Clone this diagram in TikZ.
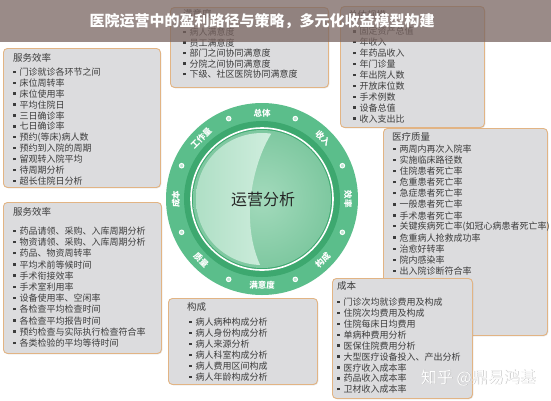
\documentclass[tikz,border=0pt]{standalone}
\usepackage{fontspec}
\setmainfont{Noto Sans CJK SC}
\usetikzlibrary{shadows}
\definecolor{boxfill}{HTML}{DCDCDE}
\definecolor{boxline}{HTML}{E2B484}
\definecolor{txt}{HTML}{3C3C3C}
\definecolor{ringgreen}{HTML}{5BBE8B}
\definecolor{banddark}{HTML}{3DA86F}
\definecolor{discin}{HTML}{A3DABC}
\definecolor{discout}{HTML}{7EC8A0}
\definecolor{glowa}{HTML}{A9DCC1}
\definecolor{glowb}{HTML}{D0EEDE}
\definecolor{bannerbg}{HTML}{786460}
\newcommand{\bul}{\raisebox{2.4pt}{\rule{2.4pt}{2.4pt}}\hspace{4pt}}

\begin{document}
\begin{tikzpicture}[x=1pt,y=-1pt,
	panel/.style={draw=boxline,fill=boxfill,rounded corners=4pt,line width=0.9pt,anchor=north west,inner sep=0pt,
		drop shadow={shadow xshift=0.8pt,shadow yshift=-0.8pt,opacity=.25}},
	head/.style={anchor=west,inner sep=0pt,text=txt,font=\fontsize{9.5}{10}\selectfont},
	item/.style={anchor=west,inner sep=0pt,text=txt,font=\fontsize{9}{10}\selectfont},
	ringlbl/.style={text=white,inner sep=0pt,font=\fontsize{8.5}{9}\selectfont\bfseries}]
	\useasboundingbox (0,0) rectangle (551,400);

	% top right box
	\node[panel,minimum width=144,minimum height=121] (ztbox) at (340,6) {};
	\node[head] (zthd) at (348,15) {总体规模};
	\foreach \t [count=\i] in {固定资产总值,年收入,年药品收入,年门诊量,年出院人数,开放床位数,手术例数,设备总值,收入支出比}
		\node[item] (zt\i) at (353,20.6+10.9*\i) {\bul\t};

	% top middle box
	\node[panel,minimum width=158,minimum height=80] (mybox) at (170,7) {};
	\node[head] (myhd) at (183,14) {满意度};
	\foreach \t [count=\i] in {病人满意度,员工满意度,部门之间协同满意度,分院之间协同满意度,下级、社区医院协同满意度}
		\node[item] (my\i) at (183,21.4+10.6*\i) {\bul\t};

	% left boxes
	\node[panel,minimum width=157,minimum height=139] (fabox) at (3,48) {};
	\node[head] (fahd) at (13,58) {服务效率};
	\foreach \t [count=\i] in {门诊就诊各环节之间,床位周转率,床位使用率,平均住院日,三日确诊率,七日确诊率,预约(等床)病人数,预约到入院的周期,留观转入院平均,待周期分析,超长住院日分析}
		\node[item] (fa\i) at (13,61.1+10.9*\i) {\bul\t};

	\node[panel,minimum width=158,minimum height=151] (fbbox) at (3,202) {};
	\node[head] (fbhd) at (13,212) {服务效率};
	\foreach \t [count=\i] in {药品请领、采购、入库周期分析,物资请领、采购、入库周期分析,药品、物资周转率,平均术前等候时间,手术衔接效率,手术室利用率,设备使用率、空闲率,各检查平均检查时间,各检查平均报告时间,预约检查与实际执行检查符合率,各类检验的平均等待时间}
		\node[item] (fb\i) at (13,219.8+11.2*\i) {\bul\t};

	% right boxes
	\node[panel,minimum width=164,minimum height=207] (zlbox) at (383,128) {};
	\node[head] (zlhd) at (392,137) {医疗质量};
	\foreach \t [count=\i] in {两周内再次入院率,实施临床路径数,住院患者死亡率,危重患者死亡率,急症患者死亡率,一般患者死亡率,手术患者死亡率,关键疾病死亡率(如冠心病患者死亡率),危重病人抢救成功率,治愈好转率,院内感染率,出入院诊断符合率}
		\node[item] (zl\i) at (393,137.9+11.1*\i) {\bul\t};

	\node[panel,minimum width=140,minimum height=120] (cbbox) at (332,278) {};
	\node[head] (cbhd) at (337,286) {成本};
	\foreach \t [count=\i] in {门诊次均就诊费用及构成,住院次均费用及构成,住院每床日均费用,单病种费用分析,医保住院费用分析,大型医疗设备投入、产出分析,医疗收入成本率,药品收入成本率,卫材收入成本率}
		\node[item] (cb\i) at (337,291.3+10.9*\i) {\bul\t};

	% bottom middle box
	\node[panel,minimum width=149,minimum height=86] (gcbox) at (168,298) {};
	\node[head] (gchd) at (187,307) {构成};
	\foreach \t [count=\i] in {病人病种构成分析,病人身份构成分析,病人来源分析,病人科室构成分析,病人费用区间构成,病人年龄构成分析}
		\node[item] (gc\i) at (189,311+11*\i) {\bul\t};

	% wheel
	\coordinate (ctr) at (262,199);
	\fill[ringgreen] (ctr) circle (96pt);
	\fill[banddark] (ctr) circle (78pt);
	\shade[inner color=discin,outer color=discout] (ctr) circle (69pt);
	\begin{scope}
		\clip (ctr) circle (66pt);
		\shade[left color=glowa,right color=glowb]
			([shift={(11pt,68pt)}]ctr) .. controls ([shift={(-8pt,40pt)}]ctr) and ([shift={(-24pt,-22pt)}]ctr) .. ([shift={(0pt,-70pt)}]ctr)
			-- ([shift={(-80pt,-80pt)}]ctr) -- ([shift={(-80pt,80pt)}]ctr) -- ([shift={(11pt,80pt)}]ctr) -- cycle;
	\end{scope}
	\draw[white,line width=1.6pt] (ctr) circle (71pt);
	\node[font=\fontsize{16}{18}\selectfont,text=black!85] (core) at (263,199) {运营分析};
	\foreach \a/\t/\r [count=\k] in {90/总体/0,45/收入/-45,0/效率/-90,-45/构成/45,-90/满意度/0,-135/质量/-45,180/成本/90,135/工作量/45}
		\node[ringlbl,rotate=\r] (lbl\k) at ([shift={(\a:86pt)}]ctr) {\t};
	\foreach \a [count=\k] in {22.5,67.5,...,337.5}
		\node[circle,draw=white,line width=1pt,fill=white!60!ringgreen,inner sep=0pt,minimum size=4.5pt] (dot\k) at ([shift={(\a:87pt)}]ctr) {};

	% banner
	\fill[bannerbg,opacity=.75] (0,0) rectangle (551,42);
	\node[font=\fontsize{15}{17}\selectfont\bfseries,text=white] (title) at (262,21) {医院运营中的盈利路径与策略，多元化收益模型构建};

	% watermark
	\node[font=\fontsize{16}{18}\selectfont,text=black!30] (wmsh) at (479,378.6) {知乎 @鼎易鸿基};
	\node[font=\fontsize{16}{18}\selectfont,text=white] (wm) at (478.4,378) {知乎 @鼎易鸿基};
\end{tikzpicture}
\end{document}
